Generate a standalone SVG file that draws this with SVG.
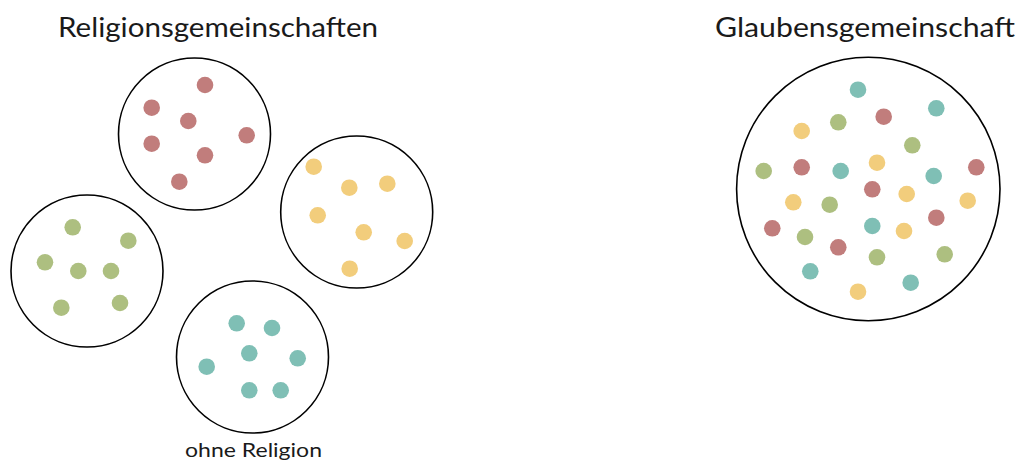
<svg xmlns="http://www.w3.org/2000/svg" width="1021" height="462" viewBox="0 0 1021 462">
  <style>
    .ring { fill: #ffffff; stroke: #000000; stroke-width: 1.6; }
    .label { font-family: "Lato", "Open Sans", "Liberation Sans", sans-serif; fill: #1a1a1a; }
    .title { font-size: 26px; }
    .caption { font-size: 20px; }
    .r { fill: #C17D7C; }
    .g { fill: #ADBF80; }
    .y { fill: #F2CD7C; }
    .t { fill: #7FBFB5; }
  </style>
  <defs>
    <circle id="dot" r="8.3"/>
  </defs>

  <!-- headings -->
  <text class="label title" x="58" y="36.5" textLength="320" lengthAdjust="spacingAndGlyphs">Religionsgemeinschaften</text>
  <text class="label title" x="715" y="36.5" textLength="300" lengthAdjust="spacingAndGlyphs">Glaubensgemeinschaft</text>

  <!-- connectors (none drawn) -->
  <g id="connectors"/>

  <!-- red community -->
  <g id="community-red">
    <circle class="ring" cx="194.5" cy="134" r="76"/>
    <g class="r">
      <use href="#dot" x="205" y="85"/>
      <use href="#dot" x="151.7" y="107.7"/>
      <use href="#dot" x="188.3" y="121"/>
      <use href="#dot" x="246.7" y="135.3"/>
      <use href="#dot" x="151.7" y="143.7"/>
      <use href="#dot" x="205" y="155.3"/>
      <use href="#dot" x="179.3" y="181.7"/>
    </g>
  </g>

  <!-- yellow community -->
  <g id="community-yellow">
    <circle class="ring" cx="356.7" cy="212" r="76"/>
    <g class="y">
      <use href="#dot" x="313.7" y="166.7"/>
      <use href="#dot" x="349.3" y="187.7"/>
      <use href="#dot" x="387.3" y="183.7"/>
      <use href="#dot" x="317.7" y="215.3"/>
      <use href="#dot" x="363.7" y="232.3"/>
      <use href="#dot" x="404.7" y="241"/>
      <use href="#dot" x="349.7" y="268.7"/>
    </g>
  </g>

  <!-- green community -->
  <g id="community-green">
    <circle class="ring" cx="87" cy="271" r="76"/>
    <g class="g">
      <use href="#dot" x="72.7" y="227.3"/>
      <use href="#dot" x="128.3" y="240.7"/>
      <use href="#dot" x="45" y="262.3"/>
      <use href="#dot" x="78.3" y="271"/>
      <use href="#dot" x="111" y="271"/>
      <use href="#dot" x="61.3" y="307.7"/>
      <use href="#dot" x="120" y="303"/>
    </g>
  </g>

  <!-- teal group: no religion -->
  <g id="no-religion">
    <circle class="ring" cx="252.5" cy="357" r="76"/>
    <g class="t">
      <use href="#dot" x="236.7" y="323.3"/>
      <use href="#dot" x="272" y="328"/>
      <use href="#dot" x="249.3" y="353.3"/>
      <use href="#dot" x="297.7" y="358.3"/>
      <use href="#dot" x="206.7" y="366.7"/>
      <use href="#dot" x="249.3" y="390.3"/>
      <use href="#dot" x="280.7" y="390.3"/>
    </g>
    <text class="label caption" x="185" y="456.5" textLength="137" lengthAdjust="spacingAndGlyphs">ohne Religion</text>
  </g>

  <!-- mixed community of faith -->
  <g id="faith-community">
    <circle class="ring" cx="868.3" cy="189" r="131.7"/>
    <g class="t">
      <use href="#dot" x="858" y="89.7"/>
      <use href="#dot" x="936.3" y="108.3"/>
      <use href="#dot" x="840.7" y="171"/>
      <use href="#dot" x="933.7" y="176"/>
      <use href="#dot" x="872.3" y="226"/>
      <use href="#dot" x="810.3" y="271.3"/>
      <use href="#dot" x="910.7" y="282.7"/>
    </g>
    <g class="r">
      <use href="#dot" x="883.7" y="116.7"/>
      <use href="#dot" x="801.7" y="167.3"/>
      <use href="#dot" x="976.3" y="167.3"/>
      <use href="#dot" x="872.3" y="189.3"/>
      <use href="#dot" x="772.3" y="228.3"/>
      <use href="#dot" x="936.3" y="217.7"/>
      <use href="#dot" x="838.3" y="247.3"/>
    </g>
    <g class="g">
      <use href="#dot" x="838.3" y="122.3"/>
      <use href="#dot" x="912.3" y="145.3"/>
      <use href="#dot" x="763.7" y="171"/>
      <use href="#dot" x="829.7" y="204.7"/>
      <use href="#dot" x="805" y="237"/>
      <use href="#dot" x="877" y="257.3"/>
      <use href="#dot" x="944.7" y="254.3"/>
    </g>
    <g class="y">
      <use href="#dot" x="801.7" y="131"/>
      <use href="#dot" x="877" y="162.7"/>
      <use href="#dot" x="906.7" y="194"/>
      <use href="#dot" x="967.7" y="200.7"/>
      <use href="#dot" x="793.3" y="202.3"/>
      <use href="#dot" x="904" y="231"/>
      <use href="#dot" x="858" y="291.7"/>
    </g>
  </g>
</svg>
